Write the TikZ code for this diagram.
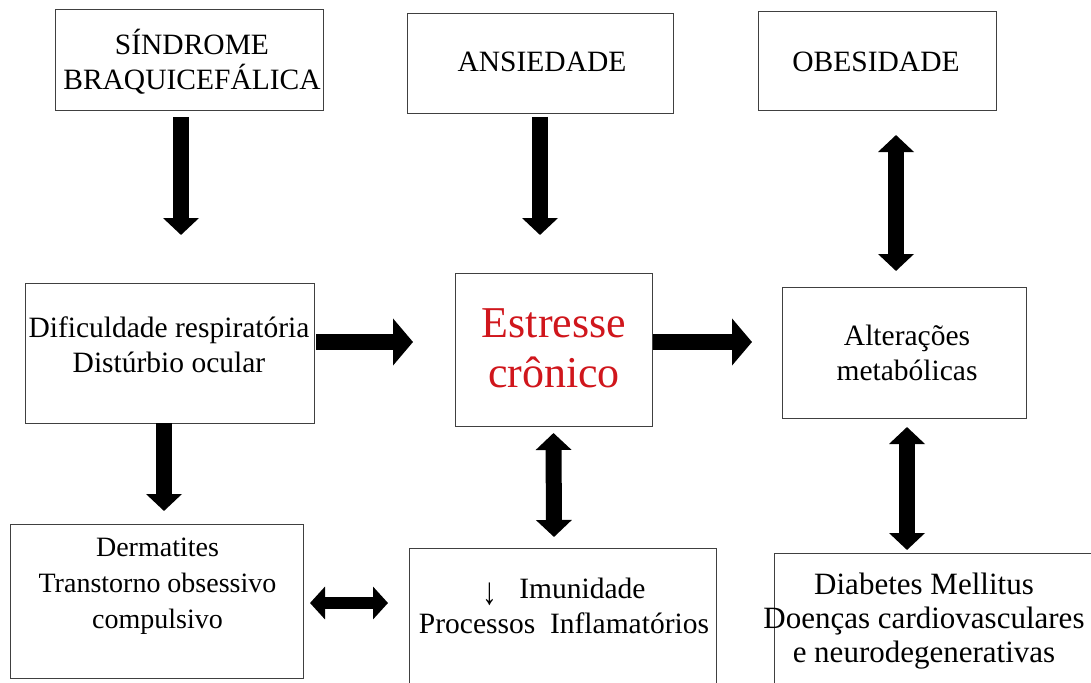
\documentclass[tikz,border=0pt]{standalone}
\usepackage{fontspec}
\setmainfont{Liberation Serif}
\usepackage{tikz}
\tikzset{>=latex}
\usetikzlibrary{arrows.meta}
\definecolor{stressRed}{RGB}{208,22,28}

\begin{document}
\begin{tikzpicture}[x=1pt,y=-1pt,
    box/.style={draw=black!75,line width=0.9pt,inner sep=0pt,outer sep=0pt},
    txt/.style={align=center,inner sep=0pt,font=\fontsize{29.5}{35}\selectfont},
    downArrow/.style={line width=16pt,-{Triangle[width=35pt,length=17pt]}},
    sideArrow/.style={line width=16pt,-{Triangle[width=46pt,length=20pt]}},
    dblArrow/.style={line width=16pt,{Triangle[width=35pt,length=17pt]}-{Triangle[width=35pt,length=17pt]}},
    flatArrow/.style={line width=12pt,{Triangle[width=32pt,length=15pt]}-{Triangle[width=32pt,length=15pt]}}]
  % page
  \clip (0,0) rectangle (1091,682);
  \fill[white] (0,0) rectangle (1091,682);

  % help functions
        % empty box: name, centre x, centre y, width, height
  \def\boxAt(#1,#2,#3,#4,#5){\node[box,minimum width=#4pt,minimum height=#5pt] (#1) at (#2,#3) {};}
        % long thin down arrow in front of a word
  \def\lowArrow{\raisebox{-6pt}{\scalebox{1}[1.3]{↓}}\hspace{22pt}}

  % boxes
  \boxAt(sind,189,59.5,268,101)
  \boxAt(ansi,540,63,266,100)
  \boxAt(obes,877,60.5,238,99)
  \boxAt(dif,169.5,353,289,140)
  \boxAt(est,553.5,349.5,197,153)
  \boxAt(alt,904,352.5,244,131)
  \boxAt(derm,156.5,601,293,154)
  \boxAt(imu,562.5,619,307,142)
  \boxAt(diab,937,621.5,326,137)

  % texts (base = baseline of the last line)
  \node[txt,anchor=base] (sindTxt) at (192,90) {SÍNDROME\\BRAQUICEFÁLICA};
  \node[txt,anchor=base] (ansiTxt) at (542,72) {ANSIEDADE};
  \node[txt,anchor=base] (obesTxt) at (876,72) {OBESIDADE};
  \node[txt,anchor=base] (difTxt) at (169,372) {Dificuldade respiratória\\Distúrbio ocular};
  \node[txt,anchor=base,text=stressRed,font=\fontsize{44}{50}\selectfont] (estTxt) at (554,387) {Estresse\\crônico};
  \node[txt,anchor=base] (altTxt) at (907,380) {Alterações\\metabólicas};
  \node[txt,anchor=base,font=\fontsize{28}{36}\selectfont] (dermTxt) at (157.5,628) {Dermatites\\Transtorno obsessivo\\compulsivo};
  \node[txt,anchor=base] (imuTxt) at (564,633) {\lowArrow Imunidade\\Processos\ \ Inflamatórios};
  \node[txt,anchor=base,font=\fontsize{31}{34}\selectfont] (diabTxt) at (924,662) {Diabetes Mellitus\\Doenças cardiovasculares\\e neurodegenerativas};

  % arrows
  \draw[downArrow] ([xshift=-8pt,yshift=-7pt]sind.south) -- ([xshift=11.5pt,yshift=48pt]dif.north);
  \draw[downArrow] ([yshift=-4pt]ansi.south) -- ([xshift=-13.5pt,yshift=38pt]est.north);
  \draw[dblArrow] ([xshift=19pt,yshift=-25pt]obes.south) -- ([xshift=-8pt,yshift=16pt]alt.north);
  \draw[sideArrow] ([xshift=2pt,yshift=11pt]dif.east) -- ([xshift=-42pt,yshift=7.5pt]est.west);
  \draw[sideArrow] ([xshift=1pt,yshift=7.5pt]est.east) -- ([xshift=-30pt,yshift=10.5pt]alt.west);
  \draw[dblArrow] ([xshift=3pt,yshift=-9pt]alt.south) -- ([xshift=-30pt,yshift=3pt]diab.north);
  \draw[downArrow] ([xshift=-5.5pt]dif.south) -- ([xshift=7.5pt,yshift=13pt]derm.north);
  \draw[flatArrow] ([xshift=7pt,yshift=-2pt]derm.east) -- ([xshift=-21pt,yshift=16pt]imu.west);
  \draw[dblArrow] ([yshift=-7pt]est.south) -- ([xshift=-8.5pt,yshift=11pt]imu.north);
\end{tikzpicture}
\end{document}
